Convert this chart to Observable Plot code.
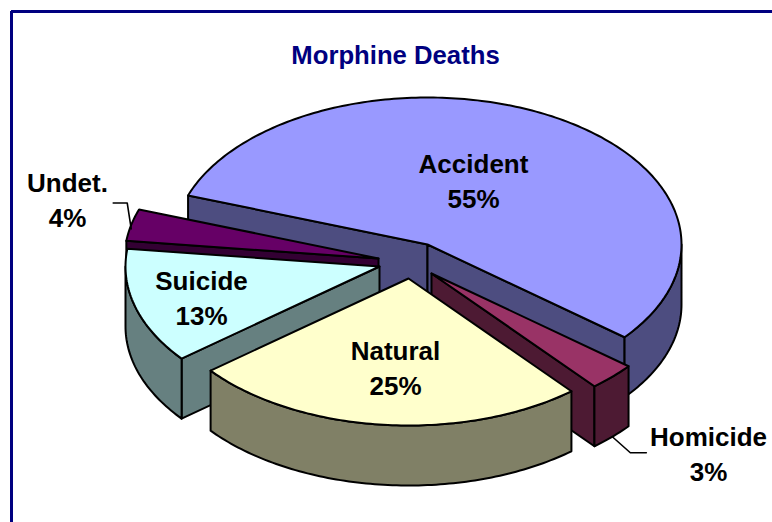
<!DOCTYPE html>
<html>
<head>
<meta charset="utf-8">
<script src="https://cdn.jsdelivr.net/npm/d3@7"></script>
<script src="https://cdn.jsdelivr.net/npm/@observablehq/plot@0.6"></script>
<style>html,body{margin:0;padding:0;background:#fff}svg{display:block}</style>
</head>
<body>
<div id="chart"></div>
<script>
// Data
const title = "Morphine Deaths";
const categories = ["Accident", "Homicide", "Natural", "Suicide", "Undet."];
const shares = [55.45, 3.05, 25.3, 12.7, 3.5]; // labels show the rounded value

// Styles
const topColors = ["#9999FF", "#993366", "#FFFFCC", "#CCFFFF", "#660066"];
const sideColors = ["#4D4D80", "#4D1A33", "#808066", "#668080", "#330033"];
const navy = "#000080";
const fontFamily = "'Liberation Sans', Arial, sans-serif";

// Layout of the exploded, tilted pie
const W = 772, H = 522;
const rx = 254, ry = 147, depth = 60, startAngle = -70.5;
const apexX = [427, 431, 408, 379, 378];
const apexY = [244, 273, 278, 266, 258];
const labelX = [473, 708, 395, 201, 67];
const labelY = [178.5, 451.5, 366, 296, 197.5];

// Angles accumulate from the shares
const edges = [startAngle];
shares.forEach(s => edges.push(edges[edges.length - 1] + s * 3.6));
const rad = d => d * Math.PI / 180;
const rim = (i, t, dy = 0) => [apexX[i] + rx * Math.sin(rad(t)), apexY[i] - ry * Math.cos(rad(t)) + dy];
const arc = (i, a, b, dy = 0) => {
  const n = Math.max(2, Math.ceil(Math.abs(b - a)));
  return d3.range(n + 1).map(k => rim(i, a + (b - a) * k / n, dy));
};
const closed = pts => [...pts, pts[0]];
const topFace = i => closed([[apexX[i], apexY[i]], ...arc(i, edges[i], edges[i + 1])]);
const wallFace = (i, a, b) => closed([...arc(i, a, b), ...arc(i, b, a, depth)]);
const cutFace = (i, t) => closed([[apexX[i], apexY[i]], rim(i, t), rim(i, t, depth), [apexX[i], apexY[i] + depth]]);

const face = (pts, color) => Plot.line(pts, {
  x: d => d[0], y: d => d[1], fill: color, stroke: "#000", strokeWidth: 2,
  strokeLinejoin: "round", curve: "linear"
});

// Painter's order, back to front: Accident, Undet., Suicide, Homicide, Natural
const [A, Ho, N, S, U] = [0, 1, 2, 3, 4];
const faces = [
  face(cutFace(A, edges[A]), sideColors[A]),
  face(cutFace(A, edges[A + 1]), sideColors[A]),
  face(wallFace(A, 90, edges[A + 1]), sideColors[A]),
  face(topFace(A), topColors[A]),
  face(cutFace(U, edges[U]), sideColors[U]),
  face(topFace(U), topColors[U]),
  face(cutFace(S, edges[S]), sideColors[S]),
  face(wallFace(S, edges[S], 270), sideColors[S]),
  face(topFace(S), topColors[S]),
  face(cutFace(Ho, edges[Ho + 1]), sideColors[Ho]),
  face(wallFace(Ho, edges[Ho], edges[Ho + 1]), sideColors[Ho]),
  face(topFace(Ho), topColors[Ho]),
  face(wallFace(N, edges[N], edges[N + 1]), sideColors[N]),
  face(topFace(N), topColors[N])
];

// Leader lines start on the slice's rim at its middle angle
const mid = i => (edges[i] + edges[i + 1]) / 2;
const uStart = rim(U, mid(U), 4);
const hStart = rim(Ho, mid(Ho), depth);
const leaderU = [uStart, [uStart[0] - 4, uStart[1] - 26], [uStart[0] - 18, uStart[1] - 26]];
const leaderH = [hStart, [hStart[0] + 18, hStart[1] + 16], [hStart[0] + 34, hStart[1] + 16]];
const leader = pts => Plot.line(pts, {x: d => d[0], y: d => d[1], stroke: "#000", strokeWidth: 1.6, curve: "linear"});

const labels = categories.map((c, i) => ({text: `${c}\n${Math.round(shares[i])}%`, x: labelX[i], y: labelY[i]}));

const chart = Plot.plot({
  width: W, height: H,
  margin: 0,
  x: {domain: [0, W], range: [0, W], axis: null},
  y: {domain: [0, H], range: [0, H], axis: null},
  marks: [
    Plot.ruleY([11], {x1: 11, x2: W, stroke: navy, strokeWidth: 3}),
    Plot.ruleX([11], {y1: 11, y2: H, stroke: navy, strokeWidth: 3}),
    ...faces,
    leader(leaderU),
    leader(leaderH),
    Plot.text([title], {x: [395], y: [55.5], text: d => d, fill: navy, fontSize: 25.7, fontWeight: "bold", fontFamily}),
    Plot.text(labels, {x: "x", y: "y", text: "text", fill: "#000", fontSize: 26, fontWeight: "bold", fontFamily, lineHeight: 1.36})
  ]
});
document.getElementById("chart").append(chart);
</script>
</body>
</html>
